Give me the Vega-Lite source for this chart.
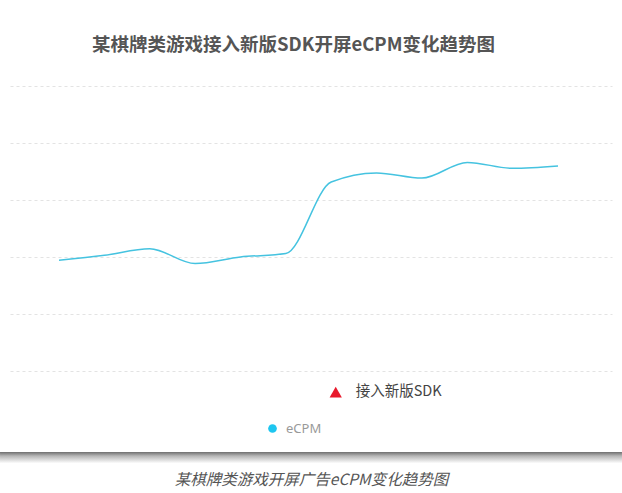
{
  "$schema": "https://vega.github.io/schema/vega-lite/v6.json",
  "autosize": {"type": "none"},
  "width": 602,
  "height": 380,
  "padding": {"left": 10, "right": 10, "top": 86, "bottom": 27},
  "background": "white",
  "config": {"view": {"stroke": null}},
  "title": {
    "text": "某棋牌类游戏接入新版SDK开屏eCPM变化趋势图",
    "anchor": "start",
    "dx": 92,
    "offset": 13,
    "baseline": "bottom",
    "font": "Noto Sans CJK SC",
    "fontSize": 18.5,
    "fontWeight": "bold",
    "color": "#555555"
  },
  "datasets": {
    "ecpm": [
      {"week": 1, "ecpm": 38.9},
      {"week": 2, "ecpm": 40.6},
      {"week": 3, "ecpm": 42.9},
      {"week": 4, "ecpm": 37.7},
      {"week": 5, "ecpm": 40.0},
      {"week": 6, "ecpm": 41.2},
      {"week": 7, "ecpm": 66.3},
      {"week": 8, "ecpm": 69.5},
      {"week": 9, "ecpm": 67.7},
      {"week": 10, "ecpm": 73.2},
      {"week": 11, "ecpm": 71.1},
      {"week": 12, "ecpm": 71.9}
    ],
    "sdk": [
      {"at": 7.1, "pos": -7.4, "label": "接入新版SDK"}
    ],
    "card": [
      {"part": "shadow"}
    ]
  },
  "layer": [
    {
      "data": {"name": "ecpm"},
      "mark": {"type": "line", "interpolate": "monotone", "strokeWidth": 1.5},
      "encoding": {
        "x": {
          "field": "week",
          "type": "quantitative",
          "scale": {"domain": [-0.08, 13.19], "nice": false, "zero": false},
          "axis": {
            "title": "某棋牌类游戏开屏广告eCPM变化趋势图",
            "domain": false,
            "ticks": false,
            "labels": false,
            "grid": false,
            "titleFont": "Noto Sans CJK SC",
            "titleFontSize": 15.5,
            "titleFontStyle": "italic",
            "titleFontWeight": "normal",
            "titleColor": "#555555",
            "titlePadding": 6
          }
        },
        "y": {
          "field": "ecpm",
          "type": "quantitative",
          "scale": {"domain": [-33.333, 100], "nice": false, "zero": false},
          "axis": {
            "title": null,
            "values": [0, 20, 40, 60, 80, 100],
            "domain": false,
            "ticks": false,
            "labels": false,
            "grid": true,
            "gridDash": [3, 3],
            "gridColor": "#e3e3e3",
            "gridWidth": 1
          }
        },
        "color": {
          "datum": "eCPM",
          "type": "nominal",
          "scale": {"range": ["#45c3e0"]},
          "legend": {
            "orient": "none",
            "legendX": 256,
            "legendY": 336,
            "title": null,
            "padding": 0,
            "symbolType": "circle",
            "symbolSize": 75,
            "symbolFillColor": "#1ec6f0",
            "symbolStrokeColor": "#1ec6f0",
            "symbolStrokeWidth": 0,
            "labelFont": "Noto Sans",
            "labelFontSize": 13,
            "labelColor": "#999999",
            "labelOffset": 7
          }
        }
      }
    },
    {
      "data": {"name": "card"},
      "mark": {
        "type": "rect",
        "color": {
          "gradient": "linear",
          "x1": 0, "y1": 0, "x2": 0, "y2": 1,
          "stops": [
            {"offset": 0, "color": "#6e6e6e"},
            {"offset": 0.35, "color": "#b5b5b5"},
            {"offset": 1, "color": "#ffffff"}
          ]
        }
      },
      "encoding": {
        "x": {"datum": -0.3, "type": "quantitative"},
        "x2": {"datum": 13.41},
        "y": {"datum": -28.42, "type": "quantitative"},
        "y2": {"datum": -32.4}
      }
    },
    {
      "data": {"name": "sdk"},
      "mark": {"type": "point", "shape": "triangle-up", "filled": true, "size": 150, "color": "#e8192c", "opacity": 1},
      "encoding": {
        "x": {"field": "at", "type": "quantitative"},
        "y": {"field": "pos", "type": "quantitative"}
      }
    },
    {
      "data": {"name": "sdk"},
      "mark": {"type": "text", "align": "left", "baseline": "middle", "dx": 20, "font": "Noto Sans CJK SC", "fontSize": 14.5, "color": "#444444"},
      "encoding": {
        "x": {"field": "at", "type": "quantitative"},
        "y": {"field": "pos", "type": "quantitative"},
        "text": {"field": "label"}
      }
    }
  ]
}
